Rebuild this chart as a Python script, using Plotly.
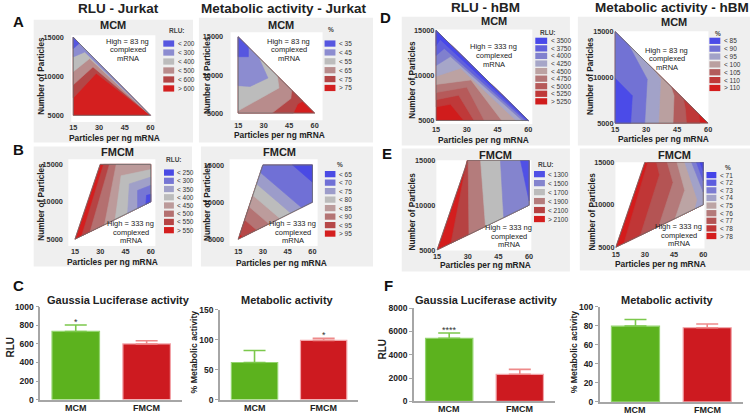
import plotly.graph_objects as go

W, H = 754, 417

# ---------------- data ----------------
# contour maps: x = particles per ng mRNA, y = number of particles
X_TICKS = [15, 30, 45, 60]
Y_TICKS = [5000, 10000, 15000]

MCM_AREA = [(15, 15000), (15, 5000), (60, 5000)]
FMCM_AREA = [(15, 5000), (30, 15000), (60, 15000), (60, 10000)]

# each *_REGIONS list holds the "< level" zones, lowest level first;
# the last level fills the rest of the area
A_RLU_LEVELS = ["< 200", "< 300", "< 400", "< 500", "< 600", "> 600"]
A_RLU_REGIONS = [
    [(15, 13530), (18.5, 14222), (15, 15000)],
    [(15, 12480), (21.7, 13100), (60, 5000), (15, 15000)],
    [(15, 10590), (24.6, 12270), (60, 5000), (15, 15000)],
    [(15, 8900), (26.5, 11200), (60, 5000), (15, 15000)],
    [(15, 7230), (28.4, 10380), (60, 5000), (15, 15000)],
]

A_MET_LEVELS = ["< 35", "< 45", "< 55", "< 65", "< 75", "> 75"]
A_MET_REGIONS = [
    [(15, 12400), (21, 12400), (21, 13667), (15, 15000)],
    [(15, 8600), (22, 8500), (32.5, 9600), (27, 12333), (15, 15000)],
    [(15, 5300), (39, 8300), (38, 9889), (15, 15000)],
    [(15, 5000), (35, 5000), (46, 6900), (46.5, 8000), (15, 15000)],
    [(15, 5000), (47.5, 5000), (50, 6200), (53, 6556), (15, 15000)],
]

B_RLU_LEVELS = ["< 250", "< 300", "< 350", "< 400", "< 450", "< 500", "< 550", "> 550"]
B_RLU_REGIONS = [
    [(57.1, 9678), (57.5, 10870), (60, 11000), (60, 10000)],
    [(52.2, 9133), (52.2, 11522), (60, 12200), (60, 10000)],
    [(46.3, 8478), (47.3, 12391), (60, 13300), (60, 10000)],
    [(38.9, 7656), (42.4, 13478), (60, 14300), (60, 10000)],
    [(32.6, 6956), (39.5, 15000), (60, 15000), (60, 10000)],
    [(24, 6000), (35.5, 15000), (60, 15000), (60, 10000)],
    [(19, 5444), (32, 15000), (60, 15000), (60, 10000)],
]

B_MET_LEVELS = ["< 65", "< 70", "< 75", "< 80", "< 85", "< 90", "< 95", "> 95"]
B_MET_REGIONS = [
    [(48, 15000), (60, 12700), (60, 15000)],
    [(28.5, 14000), (53.4, 9267), (60, 10000), (60, 15000), (30, 15000)],
    [(26.2, 12456), (46.8, 8536), (60, 10000), (60, 15000), (30, 15000)],
    [(23.9, 10921), (40.3, 7811), (60, 10000), (60, 15000), (30, 15000)],
    [(21.6, 9386), (33.7, 7078), (60, 10000), (60, 15000), (30, 15000)],
    [(18.9, 7632), (26.2, 6244), (60, 10000), (60, 15000), (30, 15000)],
    [(16, 5658), (17.8, 5311), (60, 10000), (60, 15000), (30, 15000)],
]

D_RLU_LEVELS = ["< 3500", "< 3750", "< 4000", "< 4250", "< 4500",
                "< 4750", "< 5000", "< 5250", "> 5250"]
D_RLU_REGIONS = [
    [(15, 13300), (17, 14000), (59.5, 5000), (60, 5000), (15, 15000)],
    [(15, 12200), (19, 13000), (58.5, 5000), (60, 5000), (15, 15000)],
    [(15, 11100), (22, 12100), (57, 5000), (60, 5000), (15, 15000)],
    [(15, 9900), (27, 10800), (54, 5000), (60, 5000), (15, 15000)],
    [(15, 9000), (32, 9500), (47, 5000), (60, 5000), (15, 15000)],
    [(15, 8100), (30, 8700), (38.5, 5000), (60, 5000), (15, 15000)],
    [(15, 7300), (26, 7800), (33.5, 5000), (60, 5000), (15, 15000)],
    [(15, 6500), (22, 6800), (28.5, 5000), (60, 5000), (15, 15000)],
]

D_MET_LEVELS = ["< 85", "< 90", "< 95", "< 100", "< 105", "< 110", "> 110"]
D_MET_REGIONS = [
    [(15, 5000), (22.5, 5000), (23.3, 8000), (15, 9900)],
    [(15, 5000), (29.3, 5000), (30.5, 9800), (21.5, 13556), (15, 15000)],
    [(15, 5000), (36, 5000), (37, 9800), (33, 11000), (15, 15000)],
    [(15, 5000), (43, 5000), (43.5, 8000), (42, 9000), (15, 15000)],
    [(15, 5000), (49.5, 5000), (49, 6500), (48, 7667), (15, 15000)],
    [(15, 5000), (56, 5000), (55.5, 6000), (15, 15000)],
]

E_RLU_LEVELS = ["< 1300", "< 1500", "< 1700", "< 1900", "< 2100", "> 2100"]
E_RLU_REGIONS = [
    [(55.8, 15000), (60, 15000), (60, 10500)],
    [(47.6, 8622), (46, 15000), (60, 15000), (60, 10000)],
    [(38.7, 7633), (36.3, 15000), (60, 15000), (60, 10000)],
    [(30.6, 6733), (30.2, 15000), (60, 15000), (60, 10000)],
    [(21.8, 5756), (29.6, 15000), (60, 15000), (60, 10000)],
]

E_MET_LEVELS = ["< 71", "< 72", "< 73", "< 74", "< 75", "< 76", "< 77", "< 78", "> 78"]
E_MET_REGIONS = [
    [(58.3, 15000), (60, 15000), (60, 14000)],
    [(56.5, 15000), (60, 15000), (60, 12800)],
    [(54, 15000), (60, 15000), (60, 11500)],
    [(55.8, 9533), (57, 10600), (50.5, 15000), (60, 15000), (60, 10000)],
    [(45.6, 8400), (50.5, 11700), (46.5, 15000), (60, 15000), (60, 10000)],
    [(37.1, 7456), (44.5, 12600), (41.5, 15000), (60, 15000), (60, 10000)],
    [(27.7, 6411), (37.5, 13500), (36, 15000), (60, 15000), (60, 10000)],
    [(19.2, 5467), (31.5, 15000), (60, 15000), (60, 10000)],
]

# bar charts
BAR_GROUPS = ["MCM", "FMCM"]
C_GLUC_MEAN = [735, 600]
C_GLUC_ERR = [70, 35]
C_GLUC_SIG = ["*", ""]
C_META_MEAN = [62, 99]
C_META_ERR = [20, 3.5]
C_META_SIG = ["", "*"]
F_GLUC_MEAN = [5420, 2320]
F_GLUC_ERR = [450, 420]
F_GLUC_SIG = ["****", ""]
F_META_MEAN = [79.5, 77.8]
F_META_ERR = [7, 4]
F_META_SIG = ["", ""]

NOTE_83 = ["High = 83 ng", "complexed", "mRNA"]
NOTE_333 = ["High = 333 ng", "complexed", "mRNA"]

# ---------------- styles ----------------
SIX = ['#5656e0', '#8c8cd0', '#bcbcbc', '#b88c8c', '#b34646', '#d41f1f']
COLORS_B_RLU = ['#4a4ae4', '#7676d4', '#a0a0c8', '#bcbcbc', '#bc9a9a', '#b47070', '#b64444', '#d41e1e']
COLORS_B_MET = ['#4a4ae4', '#7070d6', '#9c9cca', '#bcbcbc', '#bc9c9c', '#b47474', '#b64848', '#d41e1e']
COLORS_D_RLU = ['#4848ea', '#6060dc', '#8080ce', '#a6a6c8', '#bca2a2', '#b47676', '#b65a5a', '#bf3939', '#d01c1c']
COLORS_D_MET = ['#4b4be8', '#7272d4', '#a2a2c8', '#baa0a0', '#b25c5c', '#bf3838', '#d41c1c']
COLORS_E_RLU = ['#5050e6', '#8484ce', '#bcbcbc', '#b47c7c', '#b64242', '#d41e1e']
COLORS_E_MET = ['#4444e8', '#5e5ede', '#7c7cd2', '#a2a2c8', '#bca4a4', '#b47a7a', '#b45454', '#c03636', '#d41c1c']

PANEL_BG = '#efefef'
TEXT = '#222222'
FONT = 'Liberation Sans, Arial, sans-serif'

# pixel layout of each map panel
CONTOURS = [
    dict(area=MCM_AREA, levels=A_RLU_LEVELS, regions=A_RLU_REGIONS, colors=SIX,
         dom=(68, 153, 31, 120), xpx=(70, 148), ypx=(33, 113), bg=(30, 191, 15, 141),
         title=("MCM", 110, 21), note=(NOTE_83, 125, 37), legend=("RLU:", 175, 26, 161, 172, 39.5, 9.2),
         ytitle=(38, 73), xtitle=(112, 136), yticklen=5),
    dict(area=MCM_AREA, levels=A_MET_LEVELS, regions=A_MET_REGIONS, colors=SIX,
         dom=(229, 322, 28, 118), xpx=(236.7, 314), ypx=(32.7, 110.7), bg=(197, 373, 13, 141),
         title=("MCM", 280, 21), note=(NOTE_83, 288, 37), legend=("%", 331, 25, 324, 335, 39.5, 9.1),
         ytitle=(205, 72), xtitle=(278, 133), yticklen=5),
    dict(area=MCM_AREA, levels=D_RLU_LEVELS, regions=D_RLU_REGIONS, colors=COLORS_D_RLU,
         dom=(436, 534, 25, 122), xpx=(436.7, 530), ypx=(26, 118.3), bg=(402, 572, 12, 144),
         title=("MCM", 495, 16), note=(NOTE_333, 495, 43), legend=("RLU:", 550, 28, 537, 549, 36.7, 7.75),
         ytitle=(413, 77), xtitle=(485, 138), yticklen=0),
    dict(area=MCM_AREA, levels=D_MET_LEVELS, regions=D_MET_REGIONS, colors=COLORS_D_MET,
         dom=(617, 712, 27, 122), xpx=(617.7, 711.7), ypx=(27.3, 121), bg=(580, 754, 12, 144),
         title=("MCM", 677, 17), note=(NOTE_83, 670, 46.5), legend=("%", 722, 29, 713, 724, 36.7, 8.05),
         ytitle=(593, 73), xtitle=(667, 137), yticklen=0),
    dict(area=FMCM_AREA, levels=B_RLU_LEVELS, regions=B_RLU_REGIONS, colors=COLORS_B_RLU,
         dom=(65, 153, 158, 247), xpx=(71.7, 148.3), ypx=(163.3, 240), bg=(30, 190, 145, 268),
         title=("FMCM", 115, 151), note=(NOTE_333, 128, 224), legend=("RLU:", 172, 158, 161.7, 171.7, 171.7, 8.43),
         ytitle=(38, 202), xtitle=(110, 263), yticklen=3),
    dict(area=FMCM_AREA, levels=B_MET_LEVELS, regions=B_MET_REGIONS, colors=COLORS_B_MET,
         dom=(228, 317, 158, 247), xpx=(236.7, 311.7), ypx=(164, 240), bg=(199, 373, 145, 268),
         title=("FMCM", 278, 151), note=(NOTE_333, 292, 224), legend=("%", 340, 163, 324.3, 335, 173.3, 8.7),
         ytitle=(205, 202), xtitle=(280, 264), yticklen=3),
    dict(area=FMCM_AREA, levels=E_RLU_LEVELS, regions=E_RLU_REGIONS, colors=COLORS_E_RLU,
         dom=(437, 533, 159, 251.5), xpx=(437.7, 530.7), ypx=(159.3, 251), bg=(402, 572, 147, 273),
         title=("FMCM", 497, 154), note=(NOTE_333, 510, 228), legend=("RLU:", 548, 163, 535.7, 546.7, 173.3, 9.2),
         ytitle=(413, 212), xtitle=(487, 266), yticklen=0),
    dict(area=FMCM_AREA, levels=E_MET_LEVELS, regions=E_MET_REGIONS, colors=COLORS_E_MET,
         dom=(618, 708, 161, 249.5), xpx=(618.3, 706.7), ypx=(161, 248.3), bg=(582, 754, 147, 272),
         title=("FMCM", 678, 154), note=(NOTE_333, 682, 227), legend=("%", 732, 166, 710, 720, 174.3, 7.8),
         ytitle=(595, 212), xtitle=(664, 265), yticklen=0),
]

BARS = [
    dict(mean=C_GLUC_MEAN, err=C_GLUC_ERR, sig=C_GLUC_SIG, top=1000, dtick=200,
         dom=(36.7, 180, 309.3, 404.3), title=("Gaussia Luciferase activity", 116, 302), ylab=("RLU", 7, 350, 10)),
    dict(mean=C_META_MEAN, err=C_META_ERR, sig=C_META_SIG, top=150, dtick=50,
         dom=(218.3, 358, 312.3, 404.3), title=("Metabolic activity", 287, 302), ylab=("% Metabolic activity", 193, 355, 8.7)),
    dict(mean=F_GLUC_MEAN, err=F_GLUC_ERR, sig=F_GLUC_SIG, top=8000, dtick=2000,
         dom=(414.3, 557, 310.7, 406), title=("Gaussia Luciferase activity", 488, 302), ylab=("RLU", 383, 352, 10)),
    dict(mean=F_META_MEAN, err=F_META_ERR, sig=F_META_SIG, top=100, dtick=20,
         dom=(602, 747, 309, 406.7), title=("Metabolic activity", 671, 302), ylab=("% Metabolic activity", 577, 355, 8.7)),
]
BAR_FILL = ['#5cb21e', '#cd1a20']
BAR_EDGE = ['#93d46e', '#f2a3a8']
BAR_ERR = ['#7cc84c', '#ee8a8a']
AXIS_GREY = '#a6a6a6'


def paper_x(px):
    return px / W


def paper_y(py):
    return 1 - py / H


def lin(p_a, p_b, v_a, v_b, p):
    return v_a + (p - p_a) * (v_b - v_a) / (p_b - p_a)


def rect(x0, x1, y0, y1, color, layer='below'):
    return dict(type='rect', xref='paper', yref='paper', layer=layer,
                x0=paper_x(x0), x1=paper_x(x1), y0=paper_y(y1), y1=paper_y(y0),
                fillcolor=color, line=dict(width=0))


def label(text, px, py, size, bold=False, angle=0, anchor='center', color=TEXT):
    if bold:
        text = f'<b>{text}</b>'
    return dict(text=text, x=paper_x(px), y=paper_y(py), xref='paper', yref='paper',
                showarrow=False, xanchor=anchor, yanchor='middle', textangle=angle,
                font=dict(size=size, color=color))


def polygon(pts, color, sid, line_color=None, width=0.6, fill=True):
    xs = [p[0] for p in pts] + [pts[0][0]]
    ys = [p[1] for p in pts] + [pts[0][1]]
    return go.Scatter(x=xs, y=ys, mode='lines', fill='toself' if fill else None,
                      fillcolor=color if fill else None,
                      line=dict(width=width, color=line_color or color),
                      hoverinfo='skip', showlegend=False, xaxis='x' + sid, yaxis='y' + sid)


fig = go.Figure()
shapes, annotations, axes = [], [], {}

# panel backgrounds first, then white plot areas on top of them
for p in CONTOURS:
    shapes.append(rect(*p['bg'], PANEL_BG))
for p in CONTOURS:
    x0, x1, top, bottom = p['dom']
    shapes.append(rect(x0, x1, top, bottom, 'white'))

for n, p in enumerate(CONTOURS, start=1):
    sid = '' if n == 1 else str(n)
    x0, x1, top, bottom = p['dom']
    xr = [lin(p['xpx'][0], p['xpx'][1], X_TICKS[0], X_TICKS[-1], d) for d in (x0, x1)]
    yr = [lin(p['ypx'][1], p['ypx'][0], Y_TICKS[0], Y_TICKS[-1], d) for d in (bottom, top)]
    tick_font = dict(size=7.3, color='#333', weight='bold')
    axes['xaxis' + sid] = dict(domain=[paper_x(x0), paper_x(x1)], range=xr, anchor='y' + sid,
                               tickvals=X_TICKS, ticks='',
                               showgrid=False, zeroline=False, showline=False, tickfont=tick_font,
                               fixedrange=True)
    axes['yaxis' + sid] = dict(domain=[paper_y(bottom), paper_y(top)], range=yr, anchor='x' + sid,
                               tickvals=Y_TICKS, tickformat='d',
                               ticks='outside' if p['yticklen'] else '',
                               ticklen=max(p['yticklen'], 1), tickcolor='rgba(0,0,0,0)',
                               showgrid=False, zeroline=False, showline=False, tickfont=tick_font,
                               fixedrange=True)

    # base fill with the top level, then the nested "<" zones from high to low
    fig.add_trace(polygon(p['area'], p['colors'][-1], sid))
    for region, color in reversed(list(zip(p['regions'], p['colors'][:-1]))):
        fig.add_trace(polygon(region, color, sid))
    fig.add_trace(polygon(p['area'], None, sid, line_color='#6a6a6a', width=0.8, fill=False))

    t, tx, ty = p['title']
    annotations.append(label(t, tx, ty, 11, bold=True))
    lines, nx, ny = p['note']
    for i, line in enumerate(lines):
        annotations.append(label(line, nx, ny + i * 8.8, 7.5))
    annotations.append(label('Number of Particles', *p['ytitle'], 8.2, bold=True, angle=-90))
    annotations.append(label('Particles per ng mRNA', *p['xtitle'], 8.4, bold=True))

    head, hx, hy, sx0, sx1, ly0, dy = p['legend']
    annotations.append(label(head, hx, hy, 6.5, bold=True, color='#444'))
    for i, (lev, color) in enumerate(zip(p['levels'], p['colors'])):
        cy = ly0 + i * dy
        shapes.append(rect(sx0, sx1, cy - 3.2, cy + 3.2, color, layer='above'))
        annotations.append(label(lev, sx1 + 1.5, cy, 6.5, anchor='left', color='#333'))

# bar charts
for k, b in enumerate(BARS):
    n = len(CONTOURS) + 1 + k
    sid = str(n)
    x0, x1, top, bottom = b['dom']
    axes['xaxis' + sid] = dict(domain=[paper_x(x0), paper_x(x1)], anchor='y' + sid,
                               type='category', range=[-0.5, 1.5], showline=True,
                               linecolor=AXIS_GREY, linewidth=1.6, ticks='', showgrid=False,
                               showticklabels=False, fixedrange=True)
    axes['yaxis' + sid] = dict(domain=[paper_y(bottom), paper_y(top)], anchor='x' + sid,
                               range=[0, b['top']], dtick=b['dtick'], showline=True,
                               linecolor=AXIS_GREY, linewidth=1.6, ticks='outside', ticklen=3,
                               tickcolor=AXIS_GREY, tickwidth=1.2, showgrid=False, zeroline=False,
                               tickfont=dict(size=8.5, color=TEXT, weight='bold'), fixedrange=True)
    for i, g in enumerate(BAR_GROUPS):
        fig.add_trace(go.Bar(
            x=[g], y=[b['mean'][i]], width=0.67,
            marker=dict(color=BAR_FILL[i], line=dict(color=BAR_EDGE[i], width=1.2)),
            error_y=dict(type='data', array=[b['err'][i]], arrayminus=[0], symmetric=False,
                         color=BAR_ERR[i], thickness=1.6, width=11),
            hoverinfo='skip', showlegend=False, xaxis='x' + sid, yaxis='y' + sid))
        # category label under the bar, kept tight to the axis as in the figure
        annotations.append(dict(text=f'<b>{g}</b>', x=g, y=0, xref='x' + sid, yref='y' + sid,
                                showarrow=False, yanchor='top', yshift=-1,
                                font=dict(size=9, color=TEXT)))
        if b['sig'][i]:
            annotations.append(dict(text=b['sig'][i], x=g, y=b['mean'][i] + b['err'][i],
                                    xref='x' + sid, yref='y' + sid, showarrow=False,
                                    yanchor='bottom', yshift=-4, font=dict(size=9, color='#333')))
    t, tx, ty = b['title']
    annotations.append(label(t, tx, ty, 11, bold=True))
    yl, lx, ly, ls = b['ylab']
    annotations.append(label(yl, lx, ly, ls, bold=True, angle=-90))

# column headings and panel letters
for text, x, y in [("RLU - Jurkat", 116, 3.5), ("Metabolic activity - Jurkat", 283, 3.5),
                   ("RLU - hBM", 487, 3), ("Metabolic activity - hBM", 675, 3)]:
    annotations.append(label(text, x, y, 13.5, bold=True))
for text, x, y in [("A", 15, 17), ("B", 15, 148), ("C", 15, 287),
                   ("D", 386, 13), ("E", 387, 152), ("F", 389, 287)]:
    annotations.append(label(text, x, y, 15, bold=True, color='#111'))

fig.update_layout(
    width=W, height=H, autosize=False,
    margin=dict(l=0, r=0, t=0, b=0),
    paper_bgcolor='white', plot_bgcolor='rgba(0,0,0,0)',
    showlegend=False, barmode='overlay',
    font=dict(family=FONT, color=TEXT),
    shapes=shapes, annotations=annotations,
    **axes,
)

# the page body has a default margin; drop it so the figure sits at the window origin
fig.write_html("out.html", config={'displayModeBar': False},
               post_script="document.body.style.margin='0';document.body.style.overflow='hidden';")
